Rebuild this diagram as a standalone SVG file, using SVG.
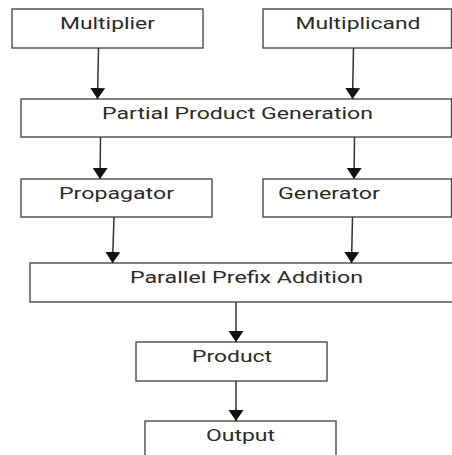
<svg xmlns="http://www.w3.org/2000/svg" width="452" height="455" viewBox="0 0 452 455">
  <style>
    .box { fill: #ffffff; stroke: #4a4a4a; stroke-width: 1.4; }
    .lbl { font-family: Roboto, "Liberation Sans", Arial, sans-serif; font-size: 16px; fill: #2a2a2a; }
    .wire { stroke: #333333; stroke-width: 1.5; fill: none; marker-end: url(#arrow); }
  </style>
  <defs>
    <marker id="arrow" markerUnits="userSpaceOnUse" markerWidth="12" markerHeight="16" refX="11" refY="7.5" orient="auto">
      <path d="M0,0 L11,7.5 L0,15 Z" fill="#111111"/>
    </marker>
  </defs>
  <rect width="452" height="455" fill="#ffffff"/>

  <g id="multiplier">
    <rect class="box" x="12" y="9" width="191" height="39"/>
    <text class="lbl" x="107.5" y="28.5" text-anchor="middle" textLength="95" lengthAdjust="spacingAndGlyphs">Multiplier</text>
  </g>
  <g id="multiplicand">
    <rect class="box" x="263" y="9" width="188.5" height="39"/>
    <text class="lbl" x="358" y="28.5" text-anchor="middle" textLength="125" lengthAdjust="spacingAndGlyphs">Multiplicand</text>
  </g>
  <g id="partial-product-generation">
    <rect class="box" x="21" y="99" width="430.5" height="38"/>
    <text class="lbl" x="237.5" y="118.5" text-anchor="middle" textLength="271" lengthAdjust="spacingAndGlyphs">Partial Product Generation</text>
  </g>
  <g id="propagator">
    <rect class="box" x="21" y="179" width="191" height="38"/>
    <text class="lbl" x="116.5" y="198.5" text-anchor="middle" textLength="115" lengthAdjust="spacingAndGlyphs">Propagator</text>
  </g>
  <g id="generator">
    <rect class="box" x="263" y="179" width="188.5" height="38"/>
    <text class="lbl" x="329" y="198.5" text-anchor="middle" textLength="102" lengthAdjust="spacingAndGlyphs">Generator</text>
  </g>
  <g id="parallel-prefix-addition">
    <rect class="box" x="30" y="263" width="423" height="39"/>
    <text class="lbl" x="246.5" y="282.5" text-anchor="middle" textLength="233" lengthAdjust="spacingAndGlyphs">Parallel Prefix Addition</text>
  </g>
  <g id="product">
    <rect class="box" x="136" y="342" width="191" height="39"/>
    <text class="lbl" x="232" y="361.5" text-anchor="middle" textLength="80" lengthAdjust="spacingAndGlyphs">Product</text>
  </g>
  <g id="output">
    <rect class="box" x="145" y="421" width="191" height="40"/>
    <text class="lbl" x="240.5" y="441" text-anchor="middle" textLength="69" lengthAdjust="spacingAndGlyphs">Output</text>
  </g>

  <g id="connectors">
    <path class="wire" d="M98.5,48 L97.5,99"/>
    <path class="wire" d="M353.5,48 L352.5,99"/>
    <path class="wire" d="M100.5,137 L100,179"/>
    <path class="wire" d="M354.5,137 L354,179"/>
    <path class="wire" d="M114,217 L112.5,263"/>
    <path class="wire" d="M352.5,217 L351.5,263"/>
    <path class="wire" d="M236,302 L236,342"/>
    <path class="wire" d="M236,381 L236,421"/>
  </g>
</svg>
